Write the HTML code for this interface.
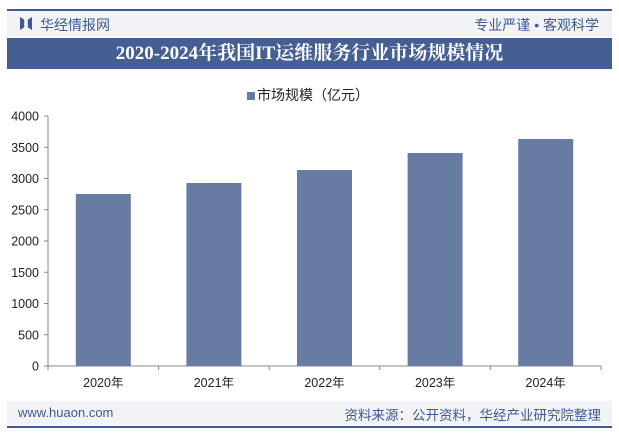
<!DOCTYPE html>
<html><head><meta charset="utf-8"><style>
body{margin:0;width:619px;height:436px;background:#fff;font-family:"Liberation Sans","Noto Sans CJK SC",sans-serif;position:relative;overflow:hidden}
.abs{position:absolute}
</style></head><body>
<div class="abs" style="left:7px;top:9px;width:605px;height:2px;background:#3f5a8f"></div>
<div class="abs" style="left:7px;top:11px;width:605px;height:26px;background:#f1f3f7"></div>
<div class="abs" style="left:20px;top:17px;width:12px;height:13px;background:#3f5a8f;clip-path:polygon(0 0,35% 20%,35% 80%,0 100%,0 0,100% 0,100% 100%,65% 80%,65% 20%,100% 0)"></div>
<div class="abs" style="left:40px;top:15px;font-size:14px;color:#3f5a8f">华经情报网</div>
<div class="abs" style="right:20px;top:15px;font-size:14px;color:#3f5a8f">专业严谨 • 客观科学</div>
<div class="abs" style="left:7px;top:38px;width:605px;height:31px;background:#465f93;color:#fff;font-family:'Liberation Serif','Noto Serif CJK SC',serif;font-weight:bold;font-size:19px;line-height:31px;text-align:center">2020-2024年我国IT运维服务行业市场规模情况</div>
<div class="abs" style="left:247px;top:85px;font-size:14px;color:#222"><span style="display:inline-block;width:8px;height:8px;background:#687ca3;margin-right:2px"></span>市场规模（亿元）</div>
<svg class="abs" style="left:0;top:0" width="619" height="436" id="chart"></svg>
<div class="abs" style="left:7px;top:401px;width:605px;height:24px;background:#f1f3f7"></div>
<div class="abs" style="left:7px;top:426px;width:605px;height:2px;background:#3f5a8f"></div>
<div class="abs" style="left:18px;top:405px;font-size:13px;color:#3f5a8f">www.huaon.com</div>
<div class="abs" style="right:18px;top:404px;font-size:13.5px;color:#3f5a8f">资料来源：公开资料，华经产业研究院整理</div>
<script>
const categories=["2020年","2021年","2022年","2023年","2024年"];
const values=[2752,2928,3136,3408,3632];
const ticks=[0,500,1000,1500,2000,2500,3000,3500,4000];
const svg=document.getElementById('chart');
const NS='http://www.w3.org/2000/svg';
const x0=48,x1=601,y0=366,y1=116,yMax=4000;
const bw=(x1-x0)/categories.length;
const y=v=>y0-(v/yMax)*(y0-y1);
function mk(t,a){const e=document.createElementNS(NS,t);for(const k in a)e.setAttribute(k,a[k]);svg.appendChild(e);return e;}
const ax=mk('line',{x1:x0,y1:y1,x2:x0,y2:y0,stroke:'#888'});


const bx=mk('line',{x1:x0,y1:y0,x2:x1,y2:y0,stroke:'#888'});


ticks.forEach(t=>{
 const tk=mk('line',{x1:x0-4,y1:y(t),x2:x0,y2:y(t),stroke:'#888'});
 
 
 const tx=mk('text',{x:x0-9,y:y(t)+4.5,'text-anchor':'end','font-size':'12.5',fill:'#222','font-family':'Liberation Sans,sans-serif'});
 tx.textContent=t;
 
 
});
for(let i=0;i<=categories.length;i++){
 const tk=mk('line',{x1:x0+i*bw,y1:y0,x2:x0+i*bw,y2:y0+4,stroke:'#888'});
 
 
}
categories.forEach((c,i)=>{
 const cx=x0+(i+0.5)*bw;
 const r=mk('rect',{x:cx-27.5,y:y(values[i]),width:55,height:y0-y(values[i]),fill:'#687ca3'});
 
 
 const t=mk('text',{x:cx,y:y0+21,'text-anchor':'middle','font-size':'12.5',fill:'#222','font-family':'Liberation Sans,Noto Sans CJK SC,sans-serif'});
 t.textContent=c;
 
 
});
</script>
</body></html>
